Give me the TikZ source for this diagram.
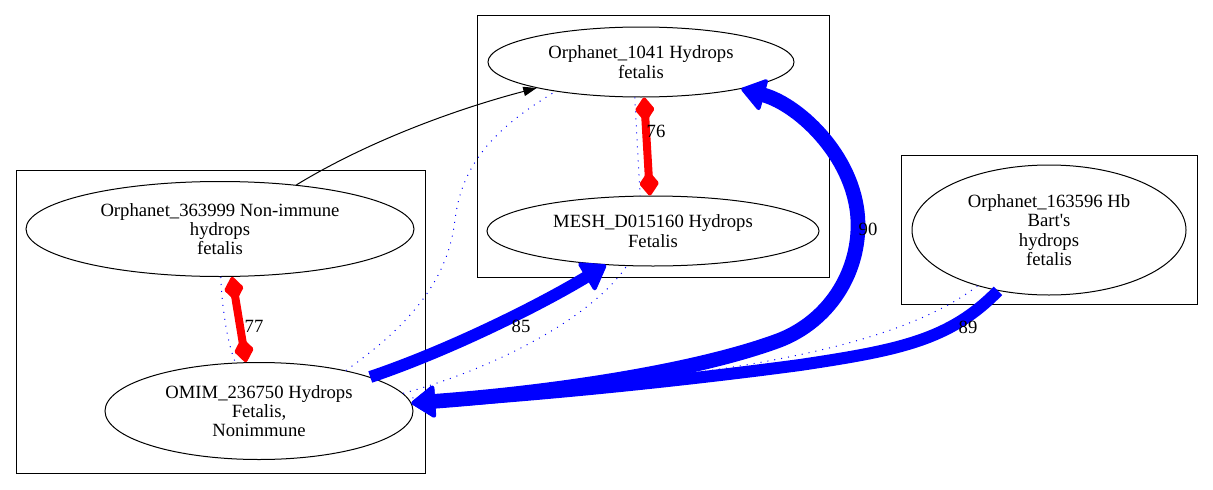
\documentclass[tikz,border=0pt]{standalone}
\usepackage{fontspec}
\setmainfont{Liberation Serif}
\usetikzlibrary{shapes.geometric,arrows.meta}

\begin{document}
\begin{tikzpicture}[x=0.75pt, y=-0.75pt, line width=0.75pt,
  every node/.style = {font=\fontsize{14}{14.5}\selectfont, align=center},
  term/.style = {shape=ellipse, draw, inner sep=0pt},
  weak/.style = {blue, dash pattern=on 0.75pt off 4.5pt},
  strong/.style = {blue, line width=9pt,
    -{Triangle[length=19pt,width=26pt,line width=3pt,round]}},
  equiv/.style = {red, line width=6pt,
    {Diamond[length=20pt,width=15pt,line width=3pt,round]}-{Diamond[length=20pt,width=15pt,line width=3pt,round]}}]
  \useasboundingbox (0,0) rectangle (1213,489);
  \draw (477,15) rectangle (829,277);
  \draw (16,170) rectangle (425,473);
  \draw (901,155) rectangle (1197,304);

  \node[term, minimum width=229.5pt, minimum height=52.5pt] (o1041) at (641,62)
    {Orphanet\_1041 Hydrops\\fetalis};
  \node[term, minimum width=249pt, minimum height=52.5pt] (mesh) at (653,231)
    {MESH\_D015160 Hydrops\\Fetalis};
  \node[term, minimum width=291pt, minimum height=71.25pt] (o363999) at (220,229)
    {Orphanet\_363999 Non-immune\\hydrops\\fetalis};
  \node[term, minimum width=231pt, minimum height=72.75pt] (omim) at (259,411)
    {OMIM\_236750 Hydrops\\Fetalis,\\Nonimmune};
  \node[term, minimum width=205.5pt, minimum height=97.5pt] (o163596) at (1049,230)
    {Orphanet\_163596 Hb\\Bart\textquotesingle s\\hydrops\\fetalis};

  \draw[weak] (o363999.271) .. controls (222,310) and (228,345) .. (omim.116);
  \draw[weak] (o1041.260) -- (mesh.110);
  \draw[weak] (omim.7) .. controls (490,370) and (590,320) .. (mesh.233);
  \draw[weak] (omim.25) .. controls (410,325) and (448,280) .. (455,220)
    .. controls (462,160) and (500,125) .. (o1041.199);
  \draw[weak] (o163596.218) .. controls (920,330) and (820,355) .. (700,372)
    .. controls (580,388) and (480,395) .. (omim.5);

  \draw[-{Triangle[length=10pt,width=7pt]}] (o363999.30)
    .. controls (370,140) and (460,108) .. (o1041.194);
  \draw[equiv] (o363999.284) -- (omim.105);
  \draw[equiv] (o1041.275) -- (mesh.95);
  \draw[strong] (omim.17) .. controls (450,350) and (540,305) .. (mesh.216);
  \draw[strong, line width=11pt,
    {Triangle[length=19pt,width=26pt,line width=3pt,round]}-{Triangle[length=19pt,width=26pt,line width=3pt,round]}]
    (omim.3) .. controls (560,392) and (700,370) .. (780,340)
    .. controls (828,321) and (858,275) .. (858,225)
    .. controls (858,160) and (800,105) .. (o1041.345);
  \draw[strong] (o163596.230) .. controls (950,340) and (900,350) .. (800,365)
    .. controls (650,385) and (500,398) .. (omim.3);

  \node (l77) at (254,326) {77};
  \node (l76) at (656,131) {76};
  \node (l85) at (521,326) {85};
  \node (l90) at (868,229) {90};
  \node (l89) at (968,327) {89};
\end{tikzpicture}
\end{document}
